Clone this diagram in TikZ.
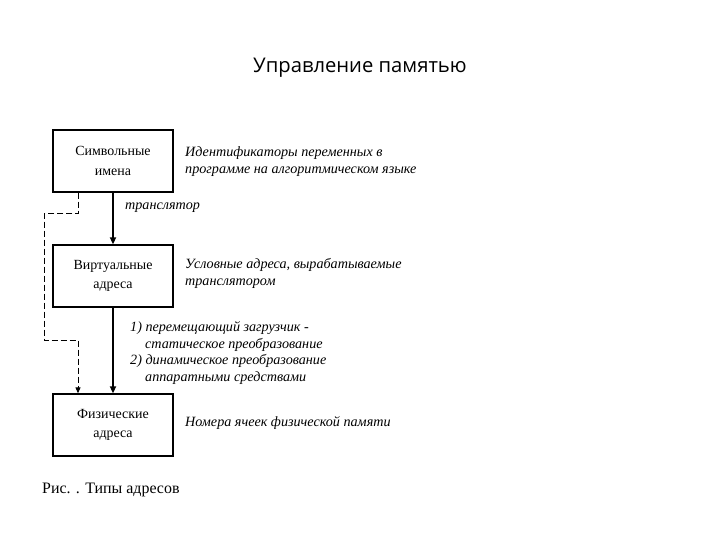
\documentclass[tikz,border=0pt]{standalone}
\usepackage{fontspec}
\setmainfont{Liberation Serif}
\newfontfamily\titlefont{Open Sans}
\usetikzlibrary{arrows.meta}
\begin{document}
\begin{tikzpicture}[x=1bp,y=-1bp,
  box/.style={draw,line width=1.3bp,minimum width=120bp,minimum height=62bp,align=center,font=\fontsize{14}{19.5}\selectfont,inner sep=0pt},
  desc/.style={anchor=west,align=left,font=\fontsize{14.2}{17}\selectfont\itshape,inner sep=0pt},
  mainarrow/.style={line width=1.6bp,-{Triangle[length=7bp,width=6bp]}},
  dasharrow/.style={line width=1bp,dash pattern=on 6bp off 3bp,-{Triangle[length=6bp,width=5bp]}}]
\useasboundingbox (0,0) rectangle (720,540);
\node[font=\titlefont\fontsize{20.3}{24}\selectfont] (title) at (360,68) {Управление памятью};
\node[box] (sym) at (113,161) {Символьные\\имена};
\node[box] (virt) at (113,276) {Виртуальные\\адреса};
\node[box] (phys) at (113,425) {Физические\\адреса};
\node[desc] (d1) at (185,162) {Идентификаторы переменных в\\программе на алгоритмическом языке};
\node[desc] (d2) at (185,273) {Условные адреса, вырабатываемые\\транслятором};
\node[desc] (tr) at (125,208) {транслятор};
\node[desc,align=left] (d3) at (130,353) {1) перемещающий загрузчик -\\\hspace*{15bp}статическое преобразование\\2) динамическое преобразование\\\hspace*{15bp}аппаратными средствами};
\node[desc] (d4) at (185,423) {Номера ячеек физической памяти};
\node[anchor=west,inner sep=0pt,font=\fontsize{16}{19}\selectfont] (cap) at (42,490) {Рис. . Типы адресов};
\draw[mainarrow] (sym) -- (virt);
\draw[mainarrow] (virt) -- (phys);
\coordinate (c1) at (78,214);
\coordinate (c2) at (44,214);
\coordinate (c3) at (44,340);
\coordinate (c4) at (78,340);
\draw[dasharrow] (sym.south -| c1) -- (c1) -- (c2) -- (c3) -- (c4) -- (phys.north -| c4);
\end{tikzpicture}
\end{document}
